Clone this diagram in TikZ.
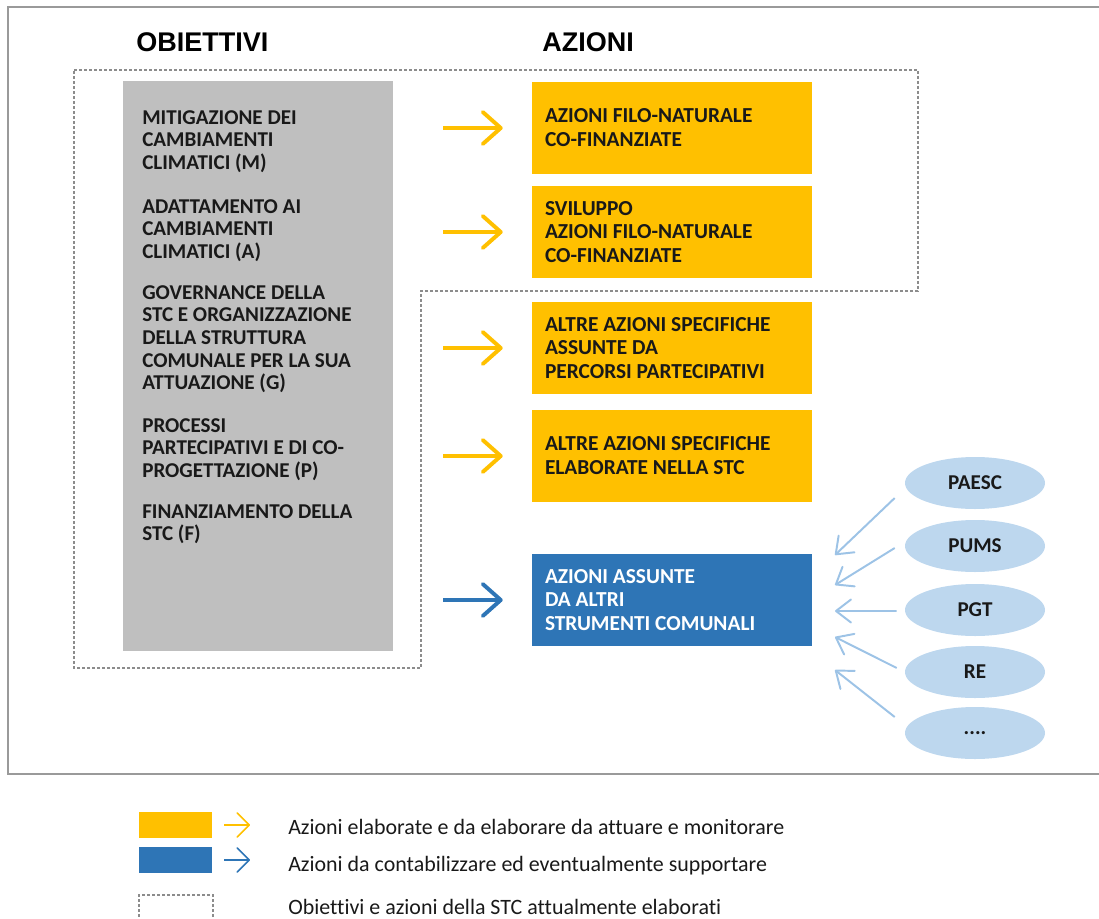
\documentclass[tikz,border=0pt]{standalone}
\usepackage{fontspec}
\setmainfont{Carlito}[Ligatures=NoCommon]
\newfontfamily\arialfont{Liberation Sans}
\usepackage{xcolor}
\definecolor{stcyellow}{HTML}{FFC000}
\definecolor{stcblue}{HTML}{2E75B6}
\definecolor{stcgray}{HTML}{BFBFBF}
\definecolor{toolblue}{HTML}{BDD7EE}
\definecolor{linkblue}{HTML}{9DC3E6}
\definecolor{dotgray}{HTML}{8C8C8C}
\definecolor{framegray}{HTML}{9A9A9A}
\usepackage{tikz}
\usetikzlibrary{arrows.meta, positioning, shapes.geometric}

\begin{document}
\begin{tikzpicture}[
    coltitle/.style ={font=\arialfont\bfseries\fontsize{19.2}{22}\selectfont,
                   inner sep=0pt, anchor=west},
    goals/.style ={rectangle, fill=stcgray, minimum width=6.75cm,
                   minimum height=14.25cm, inner sep=0pt},
    goaltext/.style ={align=left, inner sep=0pt, anchor=base west, text=black!90,
                   font=\bfseries\fontsize{15}{16.1}\selectfont},
    action/.style ={rectangle, fill=stcyellow, minimum width=7cm,
                   minimum height=2.3cm, text width=6.35cm, inner xsep=0.325cm,
                   align=flush left, text=black!90,
                   font=\bfseries\fontsize{15.2}{17}\selectfont},
    extaction/.style ={action, fill=stcblue, text=white},
    tool/.style ={ellipse, fill=toolblue, minimum width=3.5cm,
                   minimum height=1.3cm, inner sep=0pt, text=black!90,
                   font=\bfseries\fontsize{15}{17}\selectfont},
    arrow/.style ={line width=2.8pt, -{Straight Barb[length=4.5mm, width=8mm, round]},
                   shorten <=1.25cm, shorten >=0.725cm},
    link/.style ={line width=1.4pt, color=linkblue,
                   -{Straight Barb[length=3.75mm, width=5.75mm, round]}},
    legarrow/.style ={line width=1.1pt, -{Straight Barb[length=3mm, width=6mm, round]},
                   shorten <=0.3cm, shorten >=0.95cm},
    legbox/.style ={rectangle, minimum width=1.825cm, minimum height=0.65cm, inner sep=0pt},
    legtext/.style ={anchor=base west, inner sep=0pt, text=black!90,
                   font=\fontsize{15.6}{17}\selectfont},
    dotline/.style ={draw=dotgray, line width=0.065cm, dash pattern=on 0.07cm off 0.055cm},
    outerframe/.style ={draw=framegray, line width=0.05cm}
]
\useasboundingbox (0,0) rectangle (27.475,-22.975);

%% --- cadre ---
\draw[outerframe] (27.6,-0.175) -- (0.2,-0.175) -- (0.2,-19.35) -- (27.6,-19.35);

%% --- titres ---
\node[coltitle] (tobj) at (3.4,-1.05)  {OBIETTIVI};
\node[coltitle] (tact) at (13.55,-1.05) {AZIONI};

%% --- perimetre STC (pointille) ---
\draw[dotline] (1.85,-1.75) -- (22.95,-1.75) -- (22.95,-7.275) -- (10.525,-7.275)
    -- (10.525,-16.7) -- (1.85,-16.7) -- cycle;

%% --- obiettivi (ancre = ligne de base de la derniere ligne) ---
\node[goals] (obj) at (6.45,-9.15) {};
\node[goaltext] (gM) at (3.55,-4.235)  {MITIGAZIONE DEI\\CAMBIAMENTI\\CLIMATICI (M)};
\node[goaltext] (gA) at (3.55,-6.46)   {ADATTAMENTO AI\\CAMBIAMENTI\\CLIMATICI (A)};
\node[goaltext] (gG) at (3.55,-9.745)  {GOVERNANCE DELLA\\STC E ORGANIZZAZIONE\\DELLA STRUTTURA\\COMUNALE PER LA SUA\\ATTUAZIONE (G)};
\node[goaltext] (gP) at (3.55,-11.935) {PROCESSI\\PARTECIPATIVI E DI CO-\\PROGETTAZIONE (P)};
\node[goaltext] (gF) at (3.55,-13.52)  {FINANZIAMENTO DELLA\\STC (F)};

%% --- azioni ---
\node[action]    (a1) at (16.8,-3.2)  {AZIONI FILO-NATURALE\\CO-FINANZIATE};
\node[action]    (a2) at (16.8,-5.8)  {SVILUPPO\\AZIONI FILO-NATURALE\\CO-FINANZIATE};
\node[action]    (a3) at (16.8,-8.7)  {ALTRE AZIONI SPECIFICHE\\ASSUNTE DA\\PERCORSI PARTECIPATIVI};
\node[action]    (a4) at (16.8,-11.4) {ALTRE AZIONI SPECIFICHE\\ELABORATE NELLA STC};
\node[extaction] (a5) at (16.8,-15.0) {AZIONI ASSUNTE\\DA ALTRI\\STRUMENTI COMUNALI};

\draw[arrow, stcyellow] (obj.east |- a1.west) -- (a1.west);
\draw[arrow, stcyellow] (obj.east |- a2.west) -- (a2.west);
\draw[arrow, stcyellow] (obj.east |- a3.west) -- (a3.west);
\draw[arrow, stcyellow] (obj.east |- a4.west) -- (a4.west);
\draw[arrow, stcblue]   (obj.east |- a5.west) -- (a5.west);

%% --- strumenti comunali ---
\node[tool] (paesc) at (24.375,-12.075) {PAESC};
\node[tool] (pums)  at (24.375,-13.65)  {PUMS};
\node[tool] (pgt)   at (24.375,-15.25)  {PGT};
\node[tool] (re)    at (24.375,-16.8)   {RE};
\node[tool] (etc)   at (24.375,-18.325) {....};

\coordinate (t1) at (20.875,-13.875);
\coordinate (t2) at (20.875,-14.625);
\coordinate (t3) at (20.875,-15.275);
\coordinate (t4) at (20.875,-15.925);
\coordinate (t5) at (20.875,-16.75);

\draw[link] ([shift={(-0.25,-0.375)}]paesc.west) -- (t1);
\draw[link] ([shift={(-0.25,-0.05)}]pums.west)   -- (t2);
\draw[link] ([shift={(-0.2,-0.025)}]pgt.west)    -- (t3);
\draw[link] ([shift={(-0.2,0.1)}]re.west)        -- (t4);
\draw[link] ([shift={(-0.25,0.4)}]etc.west)      -- (t5);

%% --- legenda ---
\node[legbox, fill=stcyellow] (legY) at (4.3875,-20.625) {};
\node[legbox, fill=stcblue]   (legB) at (4.3875,-21.5)   {};
\node[dotline, minimum width=1.85cm, minimum height=1.2cm] (legD) at (4.4,-22.975) {};

\node[legtext] (txtY) at (7.2,-20.85)  {Azioni elaborate e da elaborare da attuare e monitorare};
\node[legtext] (txtB) at (7.2,-21.775) {Azioni da contabilizzare ed eventualmente supportare};
\node[legtext] (txtD) at (7.2,-22.85)  {Obiettivi e azioni della STC attualmente elaborati};

\draw[legarrow, stcyellow] (legY.east) -- (legY.east -| txtY.west);
\draw[legarrow, stcblue]   (legB.east) -- (legB.east -| txtB.west);
\end{tikzpicture}
\end{document}
